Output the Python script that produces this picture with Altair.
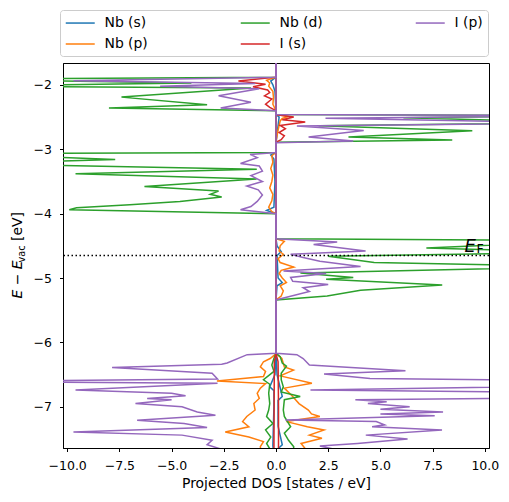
import altair as alt
import pandas as pd

# ---------------- data ----------------
SPECIES = ["Nb (s)", "Nb (p)", "Nb (d)", "I (s)", "I (p)"]
SPECIES_COLORS = ["#1f77b4", "#ff7f0e", "#2ca02c", "#d62728", "#9467bd"]
E_FERMI = -4.65
X_DOMAIN = [-10.2, 10.2]
Y_DOMAIN = [-7.64, -1.66]
X_TICKS = [-10.0, -7.5, -5.0, -2.5, 0.0, 2.5, 5.0, 7.5, 10.0]
Y_TICKS = [-7, -6, -5, -4, -3, -2]
EF_LABEL_X = 9.03
EF_LABEL_Y = -4.593

# Nb (s)
nb_s_up_E = [-1.5, -2.46, -2.50, -2.89, -4.39, -4.50, -4.59, -4.65, -5.00, -5.07, -5.12, -5.34,
             -6.17, -6.50, -6.84, -6.90, -7.30, -7.59, -7.65, -7.75]
nb_s_up = [0, 0, 0.15, 0, 0, 0.05, 0.25, 0.05, 0.1, 0.3, 0.05, 0,
           0, 0.05, 0.3, 0.1, 0.1, 0.3, 0.1, 0.1]
nb_s_dn_E = [-1.5, -1.88, -1.94, -2.00, -2.10, -2.40, -3.05, -3.09, -3.15, -3.50, -3.90, -3.95, -4.00,
             -6.17, -6.50, -6.69, -6.75, -7.00, -7.60, -7.75]
nb_s_dn = [0, 0, 0.25, 0.15, 0.05, 0, 0, 0.25, 0.1, 0.05, 0.1, 0.45, 0,
           0, 0.05, 0.3, 0.1, 0.1, 0.15, 0.1]

# Nb (p)
nb_p_up_E = [-1.5, -2.46, -2.49, -2.52, -2.56, -2.70, -2.89,
             -4.39, -4.43, -4.50, -4.58, -4.63, -4.70, -4.76, -4.83, -4.88, -4.93, -5.00, -5.07, -5.12,
             -5.20, -5.28, -5.34,
             -6.17, -6.25, -6.38, -6.43, -6.52, -6.635, -6.71, -6.84, -6.95, -7.05, -7.11, -7.15, -7.23,
             -7.31, -7.36, -7.44, -7.49, -7.57, -7.65, -7.75]
nb_p_up = [0, 0, 0.6, 0.3, 0.2, 0.1, 0,
           0, 0.4, 0.2, 0.15, 0.35, 0.1, 0.2, 0.85, 0.25, 0.15, 0.3, 0.5, 0.2,
           0.35, 0.25, 0,
           0, 0.28, 0.4, 0.84, 0.2, 1.72, 0.4, 0.8, 1.1, 1.55, 1.7, 2.1, 0.5,
           1.5, 2.3, 1.6, 2.2, 1.2, 1.4, 1.2]
nb_p_dn_E = [-1.5, -1.88, -1.93, -1.97, -2.02, -2.10, -2.20, -2.30, -2.40,
             -3.05, -3.10, -3.20, -3.30, -3.40, -3.50, -3.60, -3.70, -3.80, -3.90, -3.97, -4.00,
             -6.17, -6.19, -6.25, -6.30, -6.38, -6.45, -6.53, -6.60, -6.64, -6.71, -6.79, -6.87, -6.95,
             -7.05, -7.15, -7.23, -7.31, -7.39, -7.47, -7.54, -7.62, -7.75]
nb_p_dn = [0, 0, 0.45, 0.3, 0.35, 0.15, 0.12, 0.15, 0,
           0, 0.2, 0.15, 0.25, 0.15, 0.2, 0.3, 0.15, 0.2, 0.35, 0.2, 0,
           0, 0.05, 0.28, 0.6, 0.75, 0.5, 0.6, 2.83, 0.5, 0.75, 0.9, 0.8, 1.06,
           1.0, 1.4, 1.6, 1.3, 2.43, 1.3, 0.6, 0.75, 0.7]

# Nb (d)
nb_d_up_E = [-1.5, -2.46, -2.477, -2.51, -2.586, -2.633, -2.711, -2.809, -2.855, -2.89,
             -4.39, -4.42, -4.535, -4.60, -4.66, -4.76, -4.82, -4.92, -4.99, -5.02, -5.11, -5.19,
             -5.28, -5.34,
             -6.17, -6.22, -6.32, -6.37, -6.48, -6.58, -6.69, -6.77, -6.84, -6.89, -7.05, -7.15,
             -7.31, -7.41, -7.52, -7.62, -7.75]
nb_d_up = [0, 0, 15, 6.1, 15, 2.04, 9.4, 3.47, 8.44, 0,
           0, 15, 7.2, 15, 2.5, 4.7, 15, 1.17, 3.7, 2.4, 7.96, 4.05,
           2.45, 0,
           0, 0.2, 0.3, 0.5, 0.25, 0.25, 0.35, 0.25, 1.16, 0.4, 0.35, 0.4,
           0.7, 0.4, 0.6, 0.85, 0.8]
nb_d_dn_E = [-1.5, -1.88, -1.913, -1.97, -2.02, -2.05, -2.19, -2.31, -2.36, -2.40,
             -3.05, -3.07, -3.16, -3.22, -3.31, -3.38, -3.46, -3.58, -3.65, -3.70, -3.74, -3.81,
             -3.86, -3.91, -3.94, -4.00,
             -6.17, -6.25, -6.35, -6.45, -6.58, -6.65, -6.79, -6.95, -7.05, -7.15, -7.26, -7.36,
             -7.47, -7.57, -7.65, -7.75]
nb_d_dn = [0, 0, 15, 4.05, 15, 1.2, 7.4, 3.3, 8.0, 0,
           0, 15, 7.7, 15, 0.92, 9.6, 0.93, 6.3, 2.75, 3.15, 2.6, 4.6,
           7.0, 9.55, 9.9, 0,
           0, 0.1, 0.2, 0.1, 0.6, 0.3, 0.35, 0.3, 0.35, 0.45, 0.15, 0.5,
           0.25, 0.45, 0.3, 0.3]

# I (s)
i_s_up_E = [-1.5, -2.46, -2.50, -2.54, -2.575, -2.63, -2.68, -2.74, -2.79, -2.85, -2.89,
            -6.17, -6.30, -7.00, -7.75]
i_s_up = [0, 0, 0.85, 0.3, 1.4, 0.2, 0.45, 0.15, 0.4, 0.25, 0,
          0, 0.1, 0.12, 0.12]
i_s_dn_E = [-1.5, -1.88, -1.94, -1.99, -2.03, -2.08, -2.12, -2.17, -2.22, -2.30, -2.35, -2.40,
            -6.17, -6.30, -7.75]
i_s_dn = [0, 0, 1.8, 0.5, 1.1, 0.4, 0.3, 0.55, 0.2, 0.5, 0.3, 0,
          0, 0.08, 0.1]

# I (p)
i_p_up_E = [-1.5, -2.46, -2.477, -2.52, -2.59, -2.64, -2.71, -2.81, -2.87, -2.90,
            -4.39, -4.44, -4.48, -4.58, -4.63, -4.68, -4.74, -4.82, -4.89, -4.93, -4.99, -5.05,
            -5.10, -5.15, -5.21, -5.29, -5.34,
            -6.17, -6.19, -6.25, -6.35, -6.44, -6.49, -6.56, -6.60, -6.615, -6.67, -6.74, -6.78,
            -6.815, -6.86, -6.89, -6.92, -6.95, -7.00, -7.04, -7.08, -7.11, -7.14, -7.205, -7.23,
            -7.28, -7.31, -7.36, -7.44, -7.50, -7.57, -7.61, -7.645, -7.75]
i_p_up = [0, 0, 15, 2.37, 15, 1.0, 4.2, 1.56, 3.7, 0,
          0, 2.93, 1.8, 4.29, 0.7, 1.3, 2.1, 4.05, 0.36, 2.4, 0.7, 0.8,
          2.5, 1.3, 1.6, 0.6, 0,
          0, 1.0, 1.3, 1.6, 6.2, 2.3, 4.5, 15, 16, 15, 1.65, 15,
          16, 15, 3.8, 5.3, 4.4, 6.4, 5.0, 8.0, 5.0, 7.6, 0.45, 4.8,
          5.2, 4.6, 7.95, 4.3, 6.3, 3.9, 2.1, 2.6, 2.0]
i_p_dn_E = [-1.5, -1.88, -1.935, -1.98, -2.02, -2.06, -2.17, -2.27, -2.36, -2.40,
            -3.05, -3.08, -3.13, -3.22, -3.26, -3.34, -3.41, -3.50, -3.57, -3.63, -3.71, -3.81,
            -3.89, -3.94, -4.00,
            -6.17, -6.19, -6.32, -6.34, -6.39, -6.48, -6.57, -6.605, -6.635, -6.74, -6.79, -6.83,
            -6.87, -6.89, -6.95, -7.00, -7.08, -7.13, -7.21, -7.26, -7.32, -7.39, -7.44, -7.52,
            -7.59, -7.65, -7.75]
i_p_dn = [0, 0, 9.7, 1.0, 5.55, 0.8, 2.75, 1.2, 2.65, 0,
          0, 1.24, 0.9, 1.7, 0.8, 0.65, 1.2, 0.65, 1.4, 0.85, 0.65, 0.9,
          1.2, 1.7, 0,
          0, 1.38, 2.34, 2.6, 7.85, 3.06, 2.8, 15, 2.8, 9.6, 5.0, 4.33,
          6.17, 5.0, 6.73, 4.5, 3.77, 2.9, 6.65, 4.4, 3.3, 9.7, 4.5, 3.06,
          3.3, 2.7, 2.5]

CURVES = [
    ("Nb (s)", "up", nb_s_up_E, nb_s_up), ("Nb (s)", "down", nb_s_dn_E, nb_s_dn),
    ("Nb (p)", "up", nb_p_up_E, nb_p_up), ("Nb (p)", "down", nb_p_dn_E, nb_p_dn),
    ("Nb (d)", "up", nb_d_up_E, nb_d_up), ("Nb (d)", "down", nb_d_dn_E, nb_d_dn),
    ("I (s)", "up", i_s_up_E, i_s_up), ("I (s)", "down", i_s_dn_E, i_s_dn),
    ("I (p)", "up", i_p_up_E, i_p_up), ("I (p)", "down", i_p_dn_E, i_p_dn),
]

rows = []
for species, spin, energies, dos in CURVES:
    sign = 1.0 if spin == "up" else -1.0
    for e, d in zip(energies, dos):
        rows.append({"species": species, "key": species + "|" + spin,
                     "energy": e, "dos": sign * d})
df = pd.DataFrame(rows)

# ---------------- chart ----------------
FONT = "DejaVu Sans"

x_enc = alt.X("dos:Q", scale=alt.Scale(domain=X_DOMAIN, nice=False, zero=False),
              axis=alt.Axis(values=X_TICKS, format=".1f", title="Projected DOS [states / eV]"))
y_enc = alt.Y("energy:Q", scale=alt.Scale(domain=Y_DOMAIN, nice=False, zero=False),
              axis=alt.Axis(values=Y_TICKS, format="d", title=None))
color_enc = alt.Color(
    "species:N",
    scale=alt.Scale(domain=SPECIES, range=SPECIES_COLORS),
    legend=alt.Legend(title=None, orient="none", legendX=-3, legendY=-53, columns=3,
                      direction="vertical",
                      symbolType="M-1,0H3", symbolSize=210, symbolStrokeWidth=1.5,
                      labelFontSize=13.9, labelFont=FONT, labelColor="black",
                      labelOffset=23.5, padding=5, rowPadding=6, columnPadding=89,
                      strokeColor="#cccccc", cornerRadius=3, fillColor="white"),
)

layers = []
for species, spin, _, _ in CURVES:
    key = species + "|" + spin
    layers.append(
        alt.Chart(df).transform_filter(alt.datum.key == key)
        .mark_line(clip=True, strokeWidth=1.5)
        .encode(x=x_enc, y=y_enc, color=color_enc,
                order=alt.Order("energy:Q", sort="descending"))
    )

ef_rule = alt.Chart(pd.DataFrame({"energy": [E_FERMI]})).mark_rule(
    color="black", strokeWidth=1.5, strokeDash=[1.5, 2.5]).encode(y=alt.Y("energy:Q"))

ef_E = alt.Chart(pd.DataFrame({"dos": [EF_LABEL_X], "energy": [EF_LABEL_Y], "t": ["E"]})).mark_text(
    font=FONT, fontSize=18, fontStyle="italic", align="left", baseline="alphabetic", color="black"
).encode(x="dos:Q", y="energy:Q", text="t:N")
ef_F = alt.Chart(pd.DataFrame({"dos": [EF_LABEL_X + 0.57], "energy": [EF_LABEL_Y - 0.02], "t": ["F"]})).mark_text(
    font=FONT, fontSize=12.6, align="left", baseline="alphabetic", color="black"
).encode(x="dos:Q", y="energy:Q", text="t:N")

# y-axis title built from pieces: E − E_vac [eV]
yt1 = alt.Chart(pd.DataFrame({"t": ["E − E"]})).mark_text(
    font=FONT, fontSize=13.9, fontStyle="italic", angle=270, align="left", baseline="alphabetic",
    color="black").encode(text="t:N", x=alt.value(-41), y=alt.value(235.5))
yt2 = alt.Chart(pd.DataFrame({"t": ["vac"]})).mark_text(
    font=FONT, fontSize=9.7, angle=270, align="left", baseline="alphabetic",
    color="black").encode(text="t:N", x=alt.value(-38), y=alt.value(199.5))
yt3 = alt.Chart(pd.DataFrame({"t": ["[eV]"]})).mark_text(
    font=FONT, fontSize=13.9, angle=270, align="left", baseline="alphabetic",
    color="black").encode(text="t:N", x=alt.value(-41), y=alt.value(178))

chart = alt.layer(*layers, ef_rule, ef_E, ef_F, yt1, yt2, yt3).properties(
    width=426, height=385,
    autosize=alt.AutoSizeParams(type="none"),
    padding={"left": 55, "top": 55, "right": 12, "bottom": 46},
).configure(font=FONT).configure_view(
    stroke="black", strokeWidth=1
).configure_axis(
    grid=False, domainColor="black", domainWidth=1, tickColor="black", tickSize=3.5,
    tickWidth=1, labelColor="black", labelFont=FONT, labelFontSize=12.5, labelPadding=8,
    titleColor="black", titleFont=FONT, titleFontSize=13.9, titleFontWeight="normal",
    titlePadding=4,
)

chart.save("out.html", embed_options={"renderer": "svg", "actions": False})
